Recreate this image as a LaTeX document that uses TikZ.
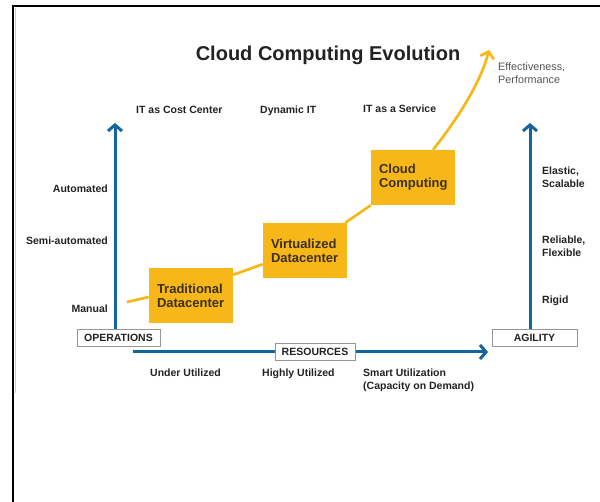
\documentclass[tikz,border=0pt]{standalone}
\usepackage{fontspec}
\setmainfont{Liberation Sans}
\usetikzlibrary{arrows.meta,backgrounds}
\definecolor{axisblue}{RGB}{20,100,160}
\definecolor{stageyellow}{RGB}{248,183,24}
\definecolor{stagetext}{RGB}{60,48,28}
\definecolor{labeltext}{RGB}{34,34,34}
\definecolor{notegrey}{RGB}{85,85,85}
\definecolor{boxframe}{RGB}{150,150,150}

\begin{document}
\begin{tikzpicture}[x=1pt,y=-1pt,
  lbl/.style={font=\bfseries\fontsize{10.5}{13}\selectfont, text=labeltext, inner sep=0pt},
  axisname/.style={draw=boxframe, line width=0.8pt, fill=white,
    font=\bfseries\fontsize{10.5}{12}\selectfont, text=labeltext,
    minimum height=17pt, inner sep=0pt},
  stage/.style={fill=stageyellow, text=stagetext,
    font=\bfseries\fontsize{13}{14}\selectfont,
    minimum height=55pt, text width=68pt, align=left,
    inner xsep=8pt, inner ysep=0pt},
  axisarrow/.style={draw=axisblue, line width=3pt,
    -{Straight Barb[length=6pt,width=14pt]}},
  evo/.style={draw=stageyellow, line width=2.7pt}
]
\useasboundingbox (0,0) rectangle (600,502);

% frame
\draw[line width=2.5pt] (13,502) -- (13,6) -- (600,6);
\draw[black!20, line width=1pt] (15.5,8) -- (15.5,393);

% title and top labels
\node[lbl, font=\bfseries\fontsize{20}{24}\selectfont, anchor=base] (title) at (328,61) {Cloud Computing Evolution};
\node[lbl, font=\fontsize{10.8}{13}\selectfont, text=notegrey, align=left, anchor=west] (effect) at (498,73.5) {Effectiveness,\\Performance};
\node[lbl, anchor=base west] (costc) at (136,114) {IT as Cost Center};
\node[lbl, anchor=base west] (dynit) at (260,114) {Dynamic IT};
\node[lbl, anchor=base west] (itaas) at (363,113) {IT as a Service};

% operations scale
\node[lbl, anchor=base east] (automated) at (108,193) {Automated};
\node[lbl, anchor=base east] (semi) at (108,245) {Semi-automated};
\node[lbl, anchor=base east] (manual) at (108,313) {Manual};

% agility scale
\node[lbl, align=left, anchor=west] (elastic) at (542,177) {Elastic,\\Scalable};
\node[lbl, align=left, anchor=west] (reliable) at (542,246) {Reliable,\\Flexible};
\node[lbl, anchor=base west] (rigid) at (542,304) {Rigid};

% resources scale
\node[lbl, anchor=base west] (under) at (150,377) {Under Utilized};
\node[lbl, anchor=base west] (highly) at (262,377) {Highly Utilized};
\node[lbl, align=left, anchor=north west] (smart) at (363,368.3) {Smart Utilization\\(Capacity on Demand)};

% axis names
\node[axisname, minimum width=83pt] (ops) at (118.5,337.5) {OPERATIONS};
\node[axisname, minimum width=80pt] (res) at (315,351.5) {RESOURCES};
\node[axisname, minimum width=85pt] (agil) at (534.5,337.5) {AGILITY};

% stages
\node[stage] (trad) at (191,295.5) {Traditional\\Datacenter};
\node[stage] (virt) at (305,250.5) {Virtualized\\Datacenter};
\node[stage] (cloud) at (413,177.5) {Cloud\\Computing};

% axis end points
\coordinate (opstip) at (115,123);
\coordinate (agiltip) at (530,123);
\coordinate (resstart) at (133,352);
\coordinate (restip) at (488,352);
\coordinate (evostart) at (127,302);
\coordinate (evotip) at (489,50);

\draw[axisarrow] (ops.north -| opstip) -- (opstip);
\draw[axisarrow] (agil.north -| agiltip) -- (agiltip);

\begin{scope}[on background layer]
  \draw[axisarrow] (resstart) -- (restip);
  \draw[evo] (evostart) -- ([yshift=-1.5pt]trad.west);
  \draw[evo] ([yshift=-7pt]trad.north east) -- ([yshift=14pt]virt.south west);
  \draw[evo] ([xshift=-2pt]virt.north east) -- (cloud.south west);
  \draw[evo, -{Straight Barb[length=6pt,width=14pt]}]
    ([xshift=20pt]cloud.north) .. controls (455,122) and (480,85) .. (evotip);
\end{scope}
\end{tikzpicture}
\end{document}
